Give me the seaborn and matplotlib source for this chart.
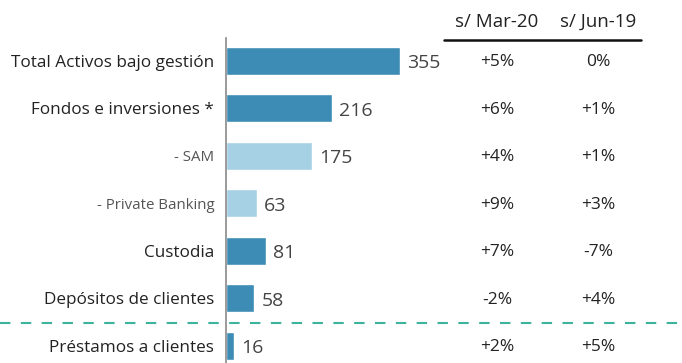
import matplotlib
matplotlib.use("Agg")
import matplotlib.pyplot as plt
from matplotlib.lines import Line2D
from matplotlib.transforms import blended_transform_factory
import pandas as pd
import seaborn as sns

categories = [
    "Total Activos bajo gestión",
    "Fondos e inversiones *",
    "- SAM",
    "- Private Banking",
    "Custodia",
    "Depósitos de clientes",
    "Préstamos a clientes",
]
values = [355, 216, 175, 63, 81, 58, 16]
vs_mar20 = ["+5%", "+6%", "+4%", "+9%", "+7%", "-2%", "+2%"]
vs_jun19 = ["0%", "+1%", "+1%", "+3%", "-7%", "+4%", "+5%"]
col_headers = ["s/ Mar-20", "s/ Jun-19"]
is_sub = [False, False, True, True, False, False, False]

dark = "#3d8cb5"
light = "#a6d0e4"
colors = [light if s else dark for s in is_sub]

df = pd.DataFrame({"cat": categories, "val": values})

sns.set_theme(style="white")
plt.rcParams["font.family"] = ["Open Sans", "DejaVu Sans"]

W, H = 682, 363
fig = plt.figure(figsize=(W / 100, H / 100), dpi=100)
ax = fig.add_axes([226 / W, 0, 1 - 226 / W, 1 - 38 / H])

sns.barplot(data=df, y="cat", x="val", hue="cat", palette=colors,
            orient="h", width=0.59, legend=False, ax=ax, saturation=1)

ax.set_xlim(0, 930)
ax.set_ylim(6.36, -0.48)
ax.set_xlabel("")
ax.set_ylabel("")
ax.set_xticks([])
for s in ["top", "right", "bottom"]:
    ax.spines[s].set_visible(False)
ax.spines["left"].set_color("#8a8a8a")
ax.spines["left"].set_linewidth(1.2)
ax.tick_params(axis="y", length=0, pad=8.5)
for lbl, sub in zip(ax.get_yticklabels(), is_sub):
    if sub:
        lbl.set_fontsize(10.8)
        lbl.set_color("#555555")
    else:
        lbl.set_fontsize(12.3)
        lbl.set_color("#222222")

# value labels at the end of each bar
for i, v in enumerate(values):
    ax.annotate(str(v), xy=(v, i + 0.05), xytext=(5, 0), textcoords="offset points",
                ha="left", va="center", fontsize=14, color="#444444")

# comparison columns
tr = blended_transform_factory(fig.transFigure, ax.transData)
col_x = [497 / W, 598 / W]
for cx, col in zip(col_x, [vs_mar20, vs_jun19]):
    for i, t in enumerate(col):
        ax.text(cx, i + 0.03, t, transform=tr, ha="center", va="center",
                fontsize=12.5, color="#222222")

for cx, h in zip(col_x, col_headers):
    fig.text(cx, 1 - 22 / H, h, ha="center", va="center",
             fontsize=13.5, color="#222222")
fig.add_artist(Line2D([444 / W, 641 / W], [1 - 40 / H, 1 - 40 / H],
                      transform=fig.transFigure, color="#111111", lw=1.8))

# separator between assets and loans
fig.add_artist(Line2D([0, 1], [1 - 323 / H, 1 - 323 / H],
                      transform=fig.transFigure, color="#3cb39c",
                      lw=1.5, linestyle=(0, (5, 5))))

fig.savefig("out.png", dpi=100)
